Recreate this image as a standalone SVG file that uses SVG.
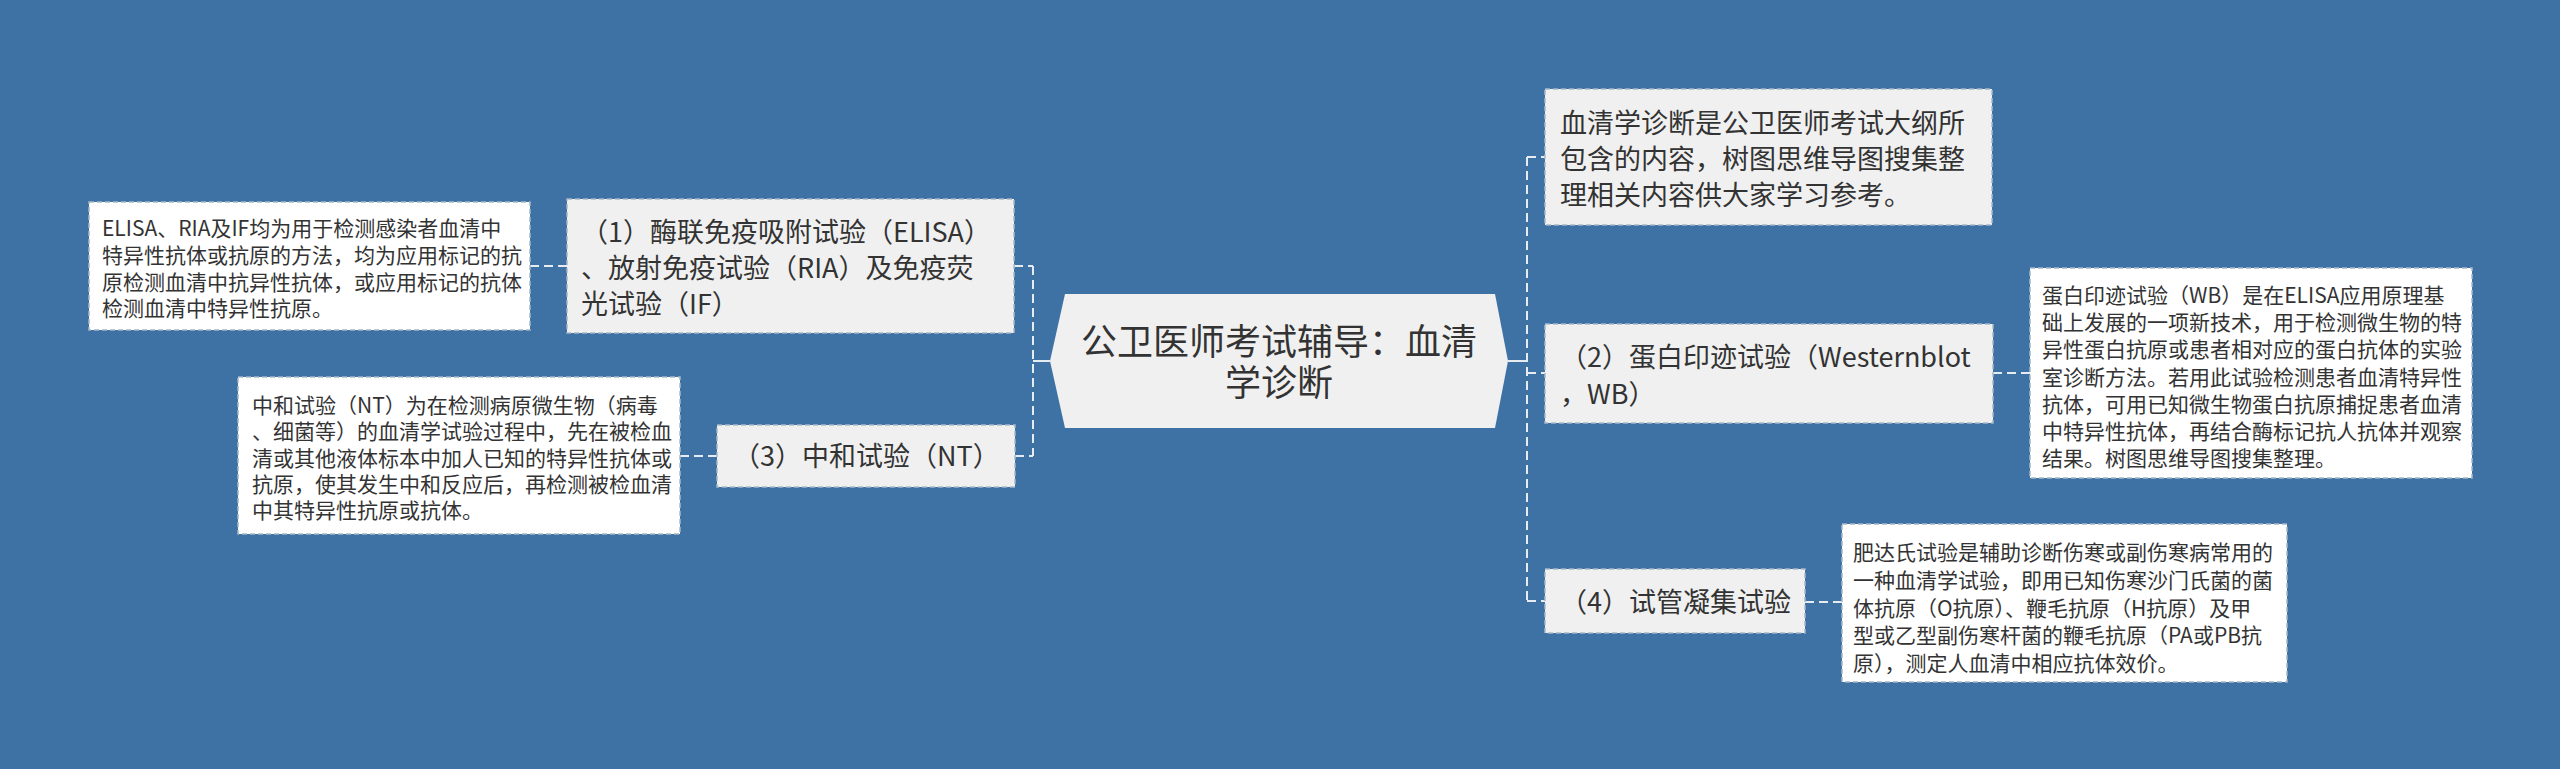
<svg xmlns="http://www.w3.org/2000/svg" width="2560" height="769" viewBox="0 0 2560 769">
<style>
text{font-family:"Noto Sans CJK SC","Noto Sans",sans-serif;fill:#333333}
.c{font-size:36px}
.t{font-size:27px}
.d{font-size:21px}
.topic{fill:#f0f0f0;stroke:#a8b8c8;stroke-width:1.5;stroke-dasharray:5 3}
.desc{fill:#ffffff;stroke:#a8b8c8;stroke-width:1.5;stroke-dasharray:5 3}
.ln{fill:none;stroke:#e6ecf2;stroke-width:2;stroke-dasharray:9 5}
.sl{fill:none;stroke:#e6ecf2;stroke-width:2}
</style>
<rect width="2560" height="769" fill="#3e72a5"/>
<g id="connectors">
<path class="ln" d="M1033 266V456"/>
<path class="sl" d="M1050 361H1033"/>
<path class="ln" d="M1014 266H1033"/>
<path class="ln" d="M1015 456H1033"/>
<path class="ln" d="M1527 157V601"/>
<path class="sl" d="M1508 361H1527"/>
<path class="ln" d="M1527 157H1545"/>
<path class="ln" d="M1527 373H1545"/>
<path class="ln" d="M1527 601H1545"/>
<path class="ln" d="M530 266H567"/>
<path class="ln" d="M680 456H717"/>
<path class="ln" d="M1993 373H2030"/>
<path class="ln" d="M1805 602H1842"/>
</g>
<g id="center">
<polygon points="1050,361 1065,294 1495,294 1508,361 1495,428 1065,428" fill="#f0f0f0"/>
<text class="c" x="1279" y="355" text-anchor="middle">公卫医师考试辅导：血清</text>
<text class="c" x="1279" y="396" text-anchor="middle">学诊断</text>
</g>
<g id="node-intro">
<rect class="topic" x="1545" y="89" width="447" height="136"/>
<text class="t" x="1560" y="133">血清学诊断是公卫医师考试大纲所</text>
<text class="t" x="1560" y="169">包含的内容，树图思维导图搜集整</text>
<text class="t" x="1560" y="205">理相关内容供大家学习参考。</text>
</g>
<g id="node-1">
<rect class="topic" x="567" y="199" width="447" height="134"/>
<text class="t" x="581" y="242">（1）酶联免疫吸附试验（ELISA）</text>
<text class="t" x="581" y="278">、放射免疫试验（RIA）及免疫荧</text>
<text class="t" x="581" y="314">光试验（IF）</text>
</g>
<g id="desc-1">
<rect class="desc" x="89" y="202" width="441" height="128"/>
<text class="d" x="102" y="236">ELISA、RIA及IF均为用于检测感染者血清中</text>
<text class="d" x="102" y="263">特异性抗体或抗原的方法，均为应用标记的抗</text>
<text class="d" x="102" y="290">原检测血清中抗异性抗体，或应用标记的抗体</text>
<text class="d" x="102" y="316">检测血清中特异性抗原。</text>
</g>
<g id="node-3">
<rect class="topic" x="717" y="425" width="298" height="62"/>
<text class="t" x="733" y="466">（3）中和试验（NT）</text>
</g>
<g id="desc-3">
<rect class="desc" x="238" y="377" width="442" height="157"/>
<text class="d" x="252" y="413">中和试验（NT）为在检测病原微生物（病毒</text>
<text class="d" x="252" y="439">、细菌等）的血清学试验过程中，先在被检血</text>
<text class="d" x="252" y="466">清或其他液体标本中加人已知的特异性抗体或</text>
<text class="d" x="252" y="492">抗原，使其发生中和反应后，再检测被检血清</text>
<text class="d" x="252" y="518">中其特异性抗原或抗体。</text>
</g>
<g id="node-2">
<rect class="topic" x="1545" y="324" width="448" height="99"/>
<text class="t" x="1560" y="367">（2）蛋白印迹试验（Westernblot</text>
<text class="t" x="1560" y="404">，WB）</text>
</g>
<g id="desc-2">
<rect class="desc" x="2030" y="268" width="442" height="210"/>
<text class="d" x="2042" y="303">蛋白印迹试验（WB）是在ELISA应用原理基</text>
<text class="d" x="2042" y="330">础上发展的一项新技术，用于检测微生物的特</text>
<text class="d" x="2042" y="357">异性蛋白抗原或患者相对应的蛋白抗体的实验</text>
<text class="d" x="2042" y="385">室诊断方法。若用此试验检测患者血清特异性</text>
<text class="d" x="2042" y="412">抗体，可用已知微生物蛋白抗原捕捉患者血清</text>
<text class="d" x="2042" y="439">中特异性抗体，再结合酶标记抗人抗体并观察</text>
<text class="d" x="2042" y="466">结果。树图思维导图搜集整理。</text>
</g>
<g id="node-4">
<rect class="topic" x="1545" y="569" width="260" height="64"/>
<text class="t" x="1560" y="612">（4）试管凝集试验</text>
</g>
<g id="desc-4">
<rect class="desc" x="1842" y="524" width="445" height="158"/>
<text class="d" x="1853" y="560">肥达氏试验是辅助诊断伤寒或副伤寒病常用的</text>
<text class="d" x="1853" y="588">一种血清学试验，即用已知伤寒沙门氏菌的菌</text>
<text class="d" x="1853" y="616">体抗原（O抗原）、鞭毛抗原（H抗原）及甲</text>
<text class="d" x="1853" y="643">型或乙型副伤寒杆菌的鞭毛抗原（PA或PB抗</text>
<text class="d" x="1853" y="671">原），测定人血清中相应抗体效价。</text>
</g>
</svg>
